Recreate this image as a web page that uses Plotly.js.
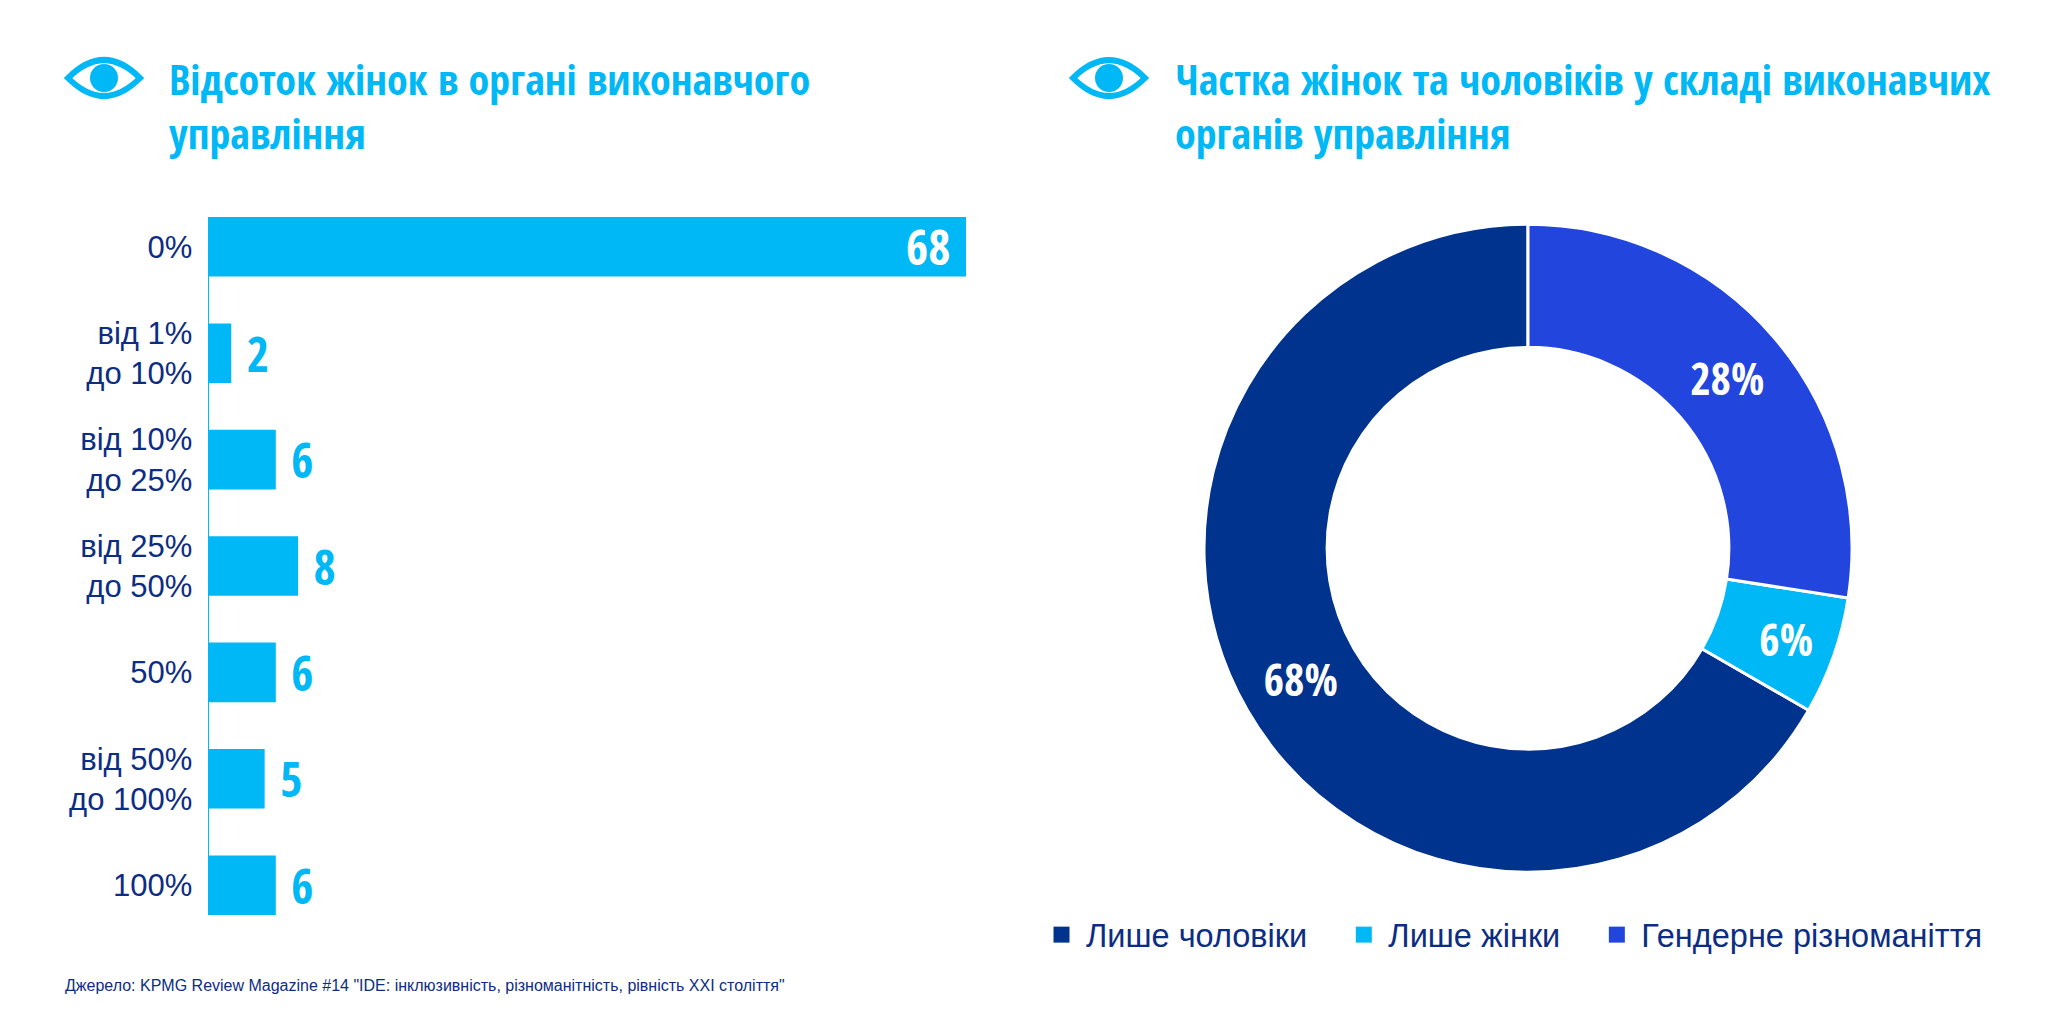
<!DOCTYPE html>
<html>
<head>
<meta charset="utf-8">
<script src="https://cdn.plot.ly/plotly-3.0.1.min.js"></script>
<style>html,body{margin:0;padding:0;background:#fff;}</style>
</head>
<body>
<div id="chart" style="width:2048px;height:1024px;"></div>
<script>
// ---- data ----
const barCategories = ['0%', 'від 1%<br>до 10%', 'від 10%<br>до 25%', 'від 25%<br>до 50%', '50%', 'від 50%<br>до 100%', '100%'];
const barCounts = [68, 2, 6, 8, 6, 5, 6];
const pieLabels = ['Лише чоловіки', 'Лише жінки', 'Гендерне різноманіття'];
const pieValues = [68, 6, 28];
const titleLeftLines = ['Відсоток жінок в органі виконавчого', 'управління'];
const titleRightLines = ['Частка жінок та чоловіків у складі виконавчих', 'органів управління'];
const sourceText = 'Джерело: KPMG Review Magazine #14 "IDE: інклюзивність, різноманітність, рівність XXI століття"';

// ---- styles ----
const W = 2048, H = 1024;
const LIGHT = '#00B8F5', NAVY = '#00338D', COBALT = '#2145DD', TEXTNAVY = '#0C2D83';
const COLORS = [NAVY, LIGHT, COBALT];
const COND = 'Noto Sans ExtraCondensed, Noto Sans Condensed, Open Sans Condensed, DejaVu Sans Condensed, sans-serif';
const REG = 'Liberation Sans, Arial, sans-serif';
const px = x => x / W, py = y => 1 - y / H;

const barTrace = {
  type: 'bar', orientation: 'h',
  x: barCounts, y: barCategories,
  marker: {color: LIGHT},
  width: 0.56,
  texttemplate: '\u00A0%{x}\u00A0',
  textposition: barCounts.map(v => v >= 30 ? 'inside' : 'outside'),
  insidetextanchor: 'end',
  textfont: {family: COND, size: 48, weight: 700},
  insidetextfont: {color: '#ffffff', family: COND, size: 48, weight: 700},
  outsidetextfont: {color: LIGHT, family: COND, size: 48, weight: 700},
  constraintext: 'none',
  cliponaxis: false,
  hoverinfo: 'skip',
  showlegend: false,
  xaxis: 'x', yaxis: 'y'
};

const total = pieValues.reduce((a, b) => a + b, 0);
const pieTrace = {
  type: 'pie',
  labels: pieLabels, values: pieValues,
  hole: 0.62, sort: false, direction: 'counterclockwise',
  rotation: 360 * (total - pieValues[0]) / total,
  marker: {colors: COLORS, line: {color: '#ffffff', width: 3}},
  texttemplate: '%{value}%',
  textposition: 'inside',
  insidetextorientation: 'horizontal',
  textfont: {family: COND, size: 44, color: '#ffffff', weight: 700},
  domain: {x: [px(1204), px(1852)], y: [py(872.5), py(224)]},
  hoverinfo: 'skip',
  showlegend: false
};

// legend entries for the pie categories (square swatches)
const legendTraces = pieLabels.map((name, i) => ({
  type: 'scatter', mode: 'markers', x: [null], y: [null],
  name: name + '\u00A0\u00A0\u00A0',
  marker: {symbol: 'square', size: 19, color: COLORS[i]},
  hoverinfo: 'skip', showlegend: true, xaxis: 'x', yaxis: 'y'
}));

function eyeShapes(cx, cy) {
  const P = (x, y) => px(x) + ',' + py(y);
  return [
    {type: 'path', xref: 'paper', yref: 'paper',
     path: 'M' + P(cx - 36, cy) + ' Q' + P(cx, cy - 36) + ' ' + P(cx + 36, cy) +
           ' Q' + P(cx, cy + 36) + ' ' + P(cx - 36, cy) + ' Z',
     line: {color: LIGHT, width: 6}, fillcolor: 'rgba(0,0,0,0)'},
    {type: 'circle', xref: 'paper', yref: 'paper',
     x0: px(cx - 14), x1: px(cx + 14), y0: py(cy + 14), y1: py(cy - 14),
     fillcolor: LIGHT, line: {width: 0}}
  ];
}

function titleAnn(text, x, yc) {
  return {text: text, xref: 'paper', yref: 'paper', x: px(x), y: py(yc),
          xanchor: 'left', yanchor: 'middle', showarrow: false,
          font: {family: COND, size: 42, color: LIGHT, weight: 700}};
}

const layout = {
  width: W, height: H,
  margin: {l: 0, r: 0, t: 0, b: 0},
  paper_bgcolor: '#ffffff', plot_bgcolor: 'rgba(0,0,0,0)',
  xaxis: {domain: [px(209), px(966)], range: [0, 68], visible: false, fixedrange: true},
  yaxis: {domain: [py(915), py(217)], type: 'category', range: [6.28, -0.28],
          showline: true, linecolor: LIGHT, linewidth: 1.5, ticks: '',
          showgrid: false, zeroline: false, ticklabelstandoff: 9,
          tickfont: {family: REG, size: 31, color: TEXTNAVY}, fixedrange: true},
  showlegend: true,
  legend: {orientation: 'h', x: px(1037), xanchor: 'left', y: py(935), yanchor: 'middle',
           itemwidth: 39,
           font: {family: REG, size: 32.5, color: TEXTNAVY}, bgcolor: 'rgba(0,0,0,0)'},
  shapes: [].concat(eyeShapes(104, 78), eyeShapes(1109, 78)),
  annotations: [
    titleAnn(titleLeftLines[0], 167, 78),
    titleAnn(titleLeftLines[1], 167, 132),
    titleAnn(titleRightLines[0], 1173, 78),
    titleAnn(titleRightLines[1], 1173, 132),
    {text: sourceText, xref: 'paper', yref: 'paper', x: px(63), y: py(985),
     xanchor: 'left', yanchor: 'middle', showarrow: false,
     font: {family: REG, size: 16, color: TEXTNAVY}}
  ]
};

Plotly.newPlot('chart', [barTrace, pieTrace].concat(legendTraces), layout, {displayModeBar: false, staticPlot: true});
</script>
</body>
</html>
